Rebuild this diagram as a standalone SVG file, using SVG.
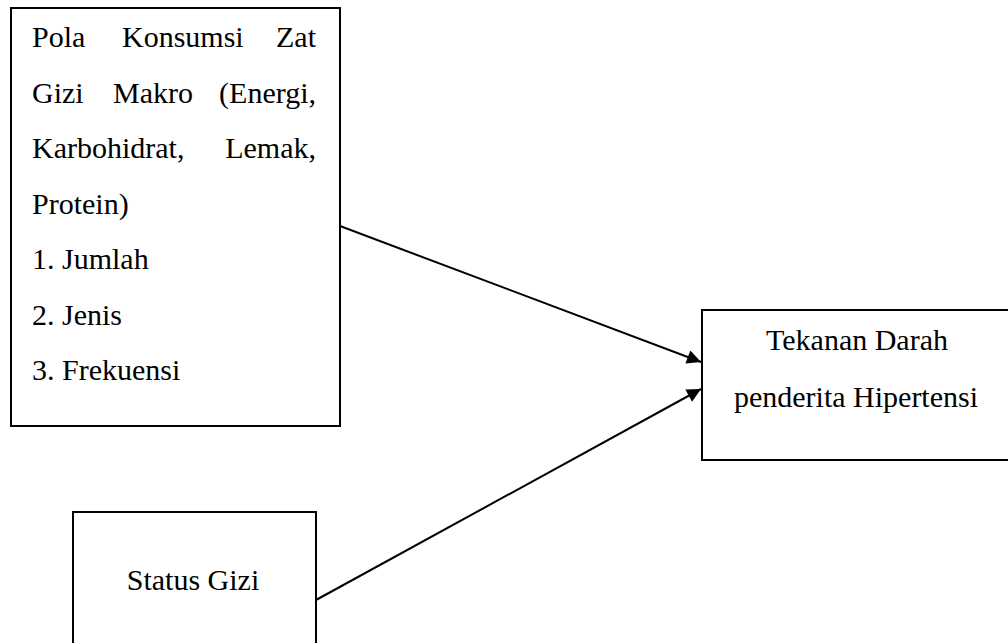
<svg xmlns="http://www.w3.org/2000/svg" width="1008" height="643" viewBox="0 0 1008 643">
<style>
.box{fill:#fff;stroke:#000;stroke-width:2}
.t{font-family:"Liberation Serif","Times New Roman",serif;font-size:30px;fill:#000}
.c{text-anchor:middle}
.e{text-anchor:end}
.ln{stroke:#000;stroke-width:2;fill:none}
</style>
<defs>
<marker id="ah" viewBox="0 0 10 10" refX="10" refY="5" markerWidth="8" markerHeight="7" markerUnits="strokeWidth" orient="auto">
<path d="M0,0 L10,5 L0,10 Z" fill="#000"/>
</marker>
</defs>
<g id="connectors">
<line class="ln" x1="340" y1="226" x2="701" y2="362" marker-end="url(#ah)"/>
<line class="ln" x1="316" y1="600" x2="701" y2="389" marker-end="url(#ah)"/>
</g>
<g id="node-pola">
<rect class="box" x="11" y="8" width="329" height="418"/>
<text class="t" x="32" y="47">Pola</text>
<text class="t" x="122" y="47">Konsumsi</text>
<text class="t e" x="316" y="47">Zat</text>
<text class="t" x="32" y="102.5">Gizi</text>
<text class="t" x="113" y="102.5">Makro</text>
<text class="t e" x="316" y="102.5">(Energi,</text>
<text class="t" x="32" y="158">Karbohidrat,</text>
<text class="t e" x="316" y="158">Lemak,</text>
<text class="t" x="32" y="213.5">Protein)</text>
<text class="t" x="32" y="269">1. Jumlah</text>
<text class="t" x="32" y="324.5">2. Jenis</text>
<text class="t" x="32" y="380">3. Frekuensi</text>
</g>
<g id="node-tekanan">
<rect class="box" x="702" y="310" width="320" height="150"/>
<text class="t c" x="857" y="350">Tekanan Darah</text>
<text class="t c" x="856" y="407">penderita Hipertensi</text>
</g>
<g id="node-status">
<rect class="box" x="73" y="512" width="243" height="160"/>
<text class="t c" x="193" y="590">Status Gizi</text>
</g>
</svg>
